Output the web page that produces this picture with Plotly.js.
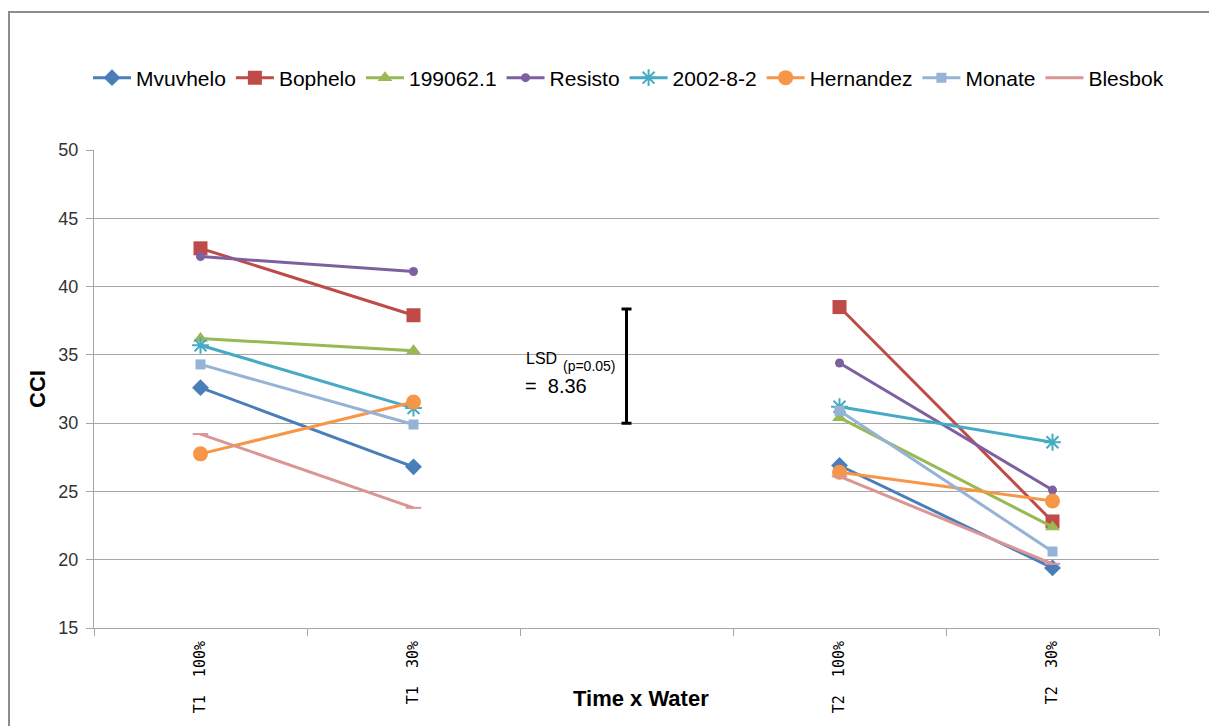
<!DOCTYPE html>
<html>
<head>
<meta charset="utf-8">
<script src="https://cdn.plot.ly/plotly-3.0.1.min.js"></script>
<style>
  html, body { margin: 0; padding: 0; background: #fff; }
  #chart { width: 1209px; height: 726px; }
</style>
</head>
<body>
<div id="chart"></div>
<script>
// Category positions: slot 2 is the empty gap holding the LSD bar
const categories = ["T1  100%", "T1  30%", "", "T2  100%", "T2  30%"];
const catPos = [0, 1, 3, 4];

// CCI per genotype at T1 100%, T1 30%, T2 100%, T2 30%
const mvuvhelo  = [32.6, 26.8, 26.9, 19.4];
const bophelo   = [42.8, 37.9, 38.5, 22.8];
const g199062   = [36.2, 35.3, 30.4, 22.4];
const resisto   = [42.2, 41.1, 34.4, 25.1];
const g2002_8_2 = [35.7, 31.1, 31.2, 28.6];
const hernandez = [27.75, 31.55, 26.4, 24.3];
const monate    = [34.3, 29.9, 30.9, 20.6];
const blesbok   = [29.2, 23.8, 26.1, 19.7];

const lsdBase = 30;
const lsdValue = 8.36;

const seriesDefs = [
  { name: "Mvuvhelo",  y: mvuvhelo,  color: "#4A7EBB", symbol: "diamond",      size: 13 },
  { name: "Bophelo",   y: bophelo,   color: "#BE4B48", symbol: "square",       size: 14 },
  { name: "199062.1",  y: g199062,   color: "#98B954", symbol: "triangle-up",  size: 13 },
  { name: "Resisto",   y: resisto,   color: "#7D60A0", symbol: "circle",       size: 9  },
  { name: "2002-8-2",  y: g2002_8_2, color: "#46AAC5", symbol: "asterisk-open",size: 14 },
  { name: "Hernandez", y: hernandez, color: "#F79646", symbol: "circle",       size: 15 },
  { name: "Monate",    y: monate,    color: "#95B3D7", symbol: "square",       size: 10 },
  { name: "Blesbok",   y: blesbok,   color: "#D99694", symbol: "line-ew-open", size: 11 }
];

const traces = [];
seriesDefs.forEach(s => {
  // T1 pair and T2 pair are joined separately
  const xs = [catPos[0], catPos[1], null, catPos[2], catPos[3]];
  const ys = [s.y[0], s.y[1], null, s.y[2], s.y[3]];
  traces.push({
    type: "scatter",
    mode: "lines+markers",
    name: s.name,
    x: xs,
    y: ys,
    connectgaps: false,
    line: { color: s.color, width: 3 },
    marker: {
      symbol: s.symbol,
      size: s.size,
      color: s.color,
      line: { color: s.color, width: (s.symbol.endsWith("open") ? 2 : 0) }
    },
    hoverinfo: "x+y+name"
  });
});

// LSD bar spanning lsdBase .. lsdBase + lsdValue
traces.push({
  type: "scatter",
  mode: "markers",
  x: [2],
  y: [lsdBase + lsdValue / 2],
  showlegend: false,
  marker: { size: 1, color: "rgba(0,0,0,0)" },
  error_y: {
    type: "data",
    symmetric: true,
    array: [lsdValue / 2],
    color: "#000000",
    thickness: 3,
    width: 5
  },
  hoverinfo: "skip"
});

// Second x-axis just to place tick marks on the category boundaries
traces.push({
  type: "scatter",
  mode: "markers",
  x: [-0.5],
  y: [15],
  xaxis: "x2",
  showlegend: false,
  marker: { size: 1, color: "rgba(0,0,0,0)" },
  hoverinfo: "skip"
});

const gridColor = "#A6A6A6";
const W = 1209, H = 726;
const L = 94, R = 50, T = 150, B = 98;
const plotW = W - L - R, plotH = H - T - B;
// pixel -> paper helpers for text placed outside the plot area
const px = v => (v - L) / plotW;
const py = v => (H - B - v) / plotH;

const layout = {
  width: W,
  height: H,
  margin: { l: L, r: R, t: T, b: B },
  paper_bgcolor: "#ffffff",
  plot_bgcolor: "#ffffff",
  font: { family: "Liberation Sans, Arial, sans-serif", color: "#000" },
  showlegend: true,
  legend: {
    orientation: "h",
    x: px(88),
    xanchor: "left",
    y: py(78),
    yanchor: "middle",
    font: { size: 21, family: "Liberation Sans, Arial, sans-serif", color: "#000" },
    itemwidth: 38,
    tracegroupgap: 0
  },
  xaxis: {
    range: [-0.5, 4.5],
    tickmode: "array",
    tickvals: [0, 1, 3, 4],
    ticktext: [categories[0], categories[1], categories[3], categories[4]],
    tickangle: -90,
    ticks: "",
    ticklabelstandoff: 6,
    tickfont: { family: "DejaVu Sans Mono, monospace", size: 15, color: "#000" },
    showgrid: false,
    zeroline: false,
    showline: true,
    linecolor: gridColor,
    linewidth: 1,
    fixedrange: true
  },
  xaxis2: {
    overlaying: "x",
    matches: "x",
    side: "bottom",
    range: [-0.5, 4.5],
    tickmode: "array",
    tickvals: [-0.5, 0.5, 1.5, 2.5, 3.5, 4.5],
    showticklabels: false,
    ticks: "outside",
    ticklen: 7,
    tickcolor: gridColor,
    showgrid: false,
    zeroline: false,
    showline: false
  },
  yaxis: {
    range: [15, 50],
    tickmode: "array",
    tickvals: [15, 20, 25, 30, 35, 40, 45, 50],
    ticks: "outside",
    ticklen: 7,
    tickcolor: gridColor,
    ticklabelstandoff: 4,
    tickfont: { size: 18, family: "Liberation Sans, Arial, sans-serif", color: "#333" },
    showgrid: true,
    gridcolor: gridColor,
    gridwidth: 1,
    zeroline: false,
    showline: true,
    linecolor: gridColor,
    fixedrange: true
  },
  annotations: [
    // axis titles
    {
      xref: "paper", yref: "paper",
      x: px(641), y: py(698),
      xanchor: "center", yanchor: "middle",
      showarrow: false,
      text: "<b>Time x Water</b>",
      font: { size: 22, family: "Liberation Sans, Arial, sans-serif", color: "#000" }
    },
    {
      xref: "paper", yref: "paper",
      x: px(37), y: py(389),
      xanchor: "center", yanchor: "middle",
      textangle: -90,
      showarrow: false,
      text: "<b>CCI</b>",
      font: { size: 22, family: "Liberation Sans, Arial, sans-serif", color: "#000" }
    },
    // LSD label
    {
      xref: "paper", yref: "paper",
      x: px(524), y: py(358),
      xanchor: "left", yanchor: "middle",
      showarrow: false,
      text: "LSD",
      font: { size: 16, family: "Liberation Sans, Arial, sans-serif", color: "#000" }
    },
    {
      xref: "paper", yref: "paper",
      x: px(561), y: py(366),
      xanchor: "left", yanchor: "middle",
      showarrow: false,
      text: "(p=0.05)",
      font: { size: 14, family: "Liberation Sans, Arial, sans-serif", color: "#000" }
    },
    {
      xref: "paper", yref: "paper",
      x: px(523), y: py(386),
      xanchor: "left", yanchor: "middle",
      showarrow: false,
      text: "=  " + lsdValue.toFixed(2),
      font: { size: 20, family: "Liberation Sans, Arial, sans-serif", color: "#000" }
    }
  ],
  shapes: [
    // outer chart frame
    {
      type: "rect", xref: "paper", yref: "paper",
      x0: px(9), x1: px(1300),
      y0: py(800), y1: py(12),
      line: { color: "#8C8C8C", width: 2 },
      fillcolor: "rgba(0,0,0,0)",
      layer: "below"
    }
  ]
};

Plotly.newPlot("chart", traces, layout, { displayModeBar: false, staticPlot: true });
</script>
</body>
</html>
